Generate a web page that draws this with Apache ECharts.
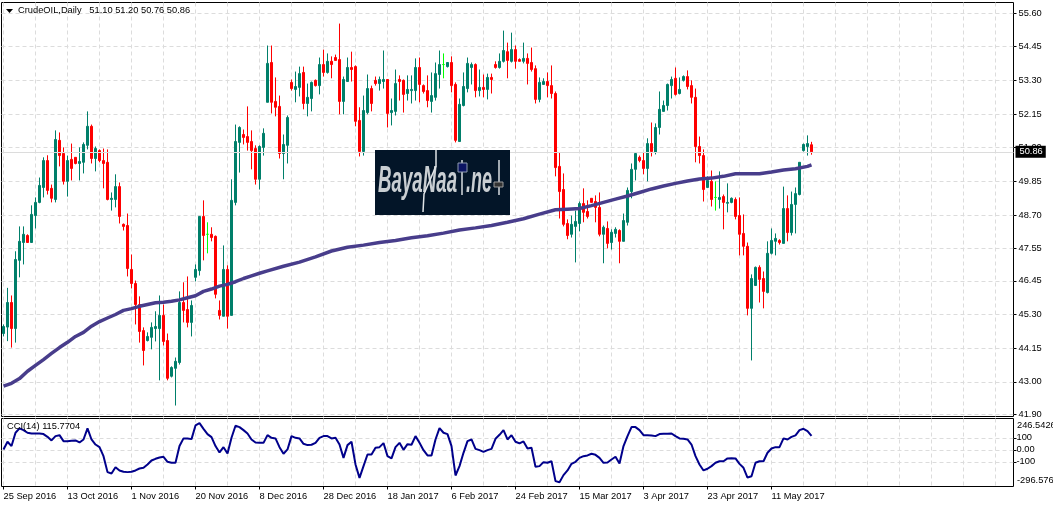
<!DOCTYPE html>
<html>
<head>
<meta charset="utf-8">
<title>CrudeOIL Daily</title>
<script src="https://cdn.jsdelivr.net/npm/echarts@6/dist/echarts.min.js"></script>
<style>
html,body{margin:0;padding:0;background:#fff;overflow:hidden}
#main{width:1053px;height:508px}
</style>
</head>
<body>
<div id="main"></div>
<script>
// daily candles
var opens = [
44.65,44.87,45.71,44.82,47.15,47.76,48.00,47.76,48.68,49.13,
49.64,50.56,49.61,49.23,51.25,50.80,49.85,50.60,50.67,50.46,
50.50,51.08,51.73,50.63,50.90,50.56,50.50,49.23,49.23,49.67,
48.38,48.34,46.84,46.36,45.64,44.75,44.41,44.52,44.82,44.82,
45.27,44.41,43.19,43.46,43.66,45.71,45.47,45.03,46.57,46.80,
48.65,48.04,48.04,47.97,45.44,45.24,46.84,45.27,49.13,51.18,
51.45,51.38,51.21,50.97,49.92,51.01,52.55,53.91,52.58,52.41,
50.80,51.08,53.23,52.99,53.06,53.57,52.51,52.68,53.30,53.12,
53.84,53.57,53.95,54.08,54.01,52.58,53.26,53.74,53.77,51.93,
50.87,52.20,53.02,53.30,53.19,53.26,53.33,52.20,52.24,53.33,
53.30,52.85,52.95,52.95,53.74,53.12,52.95,52.58,52.72,53.50,
53.84,53.77,53.91,53.16,51.21,52.44,53.02,53.74,53.84,52.95,
53.06,52.99,53.40,53.84,53.74,53.95,54.28,53.95,54.35,54.01,
53.95,54.05,53.91,53.70,52.65,53.16,53.26,53.12,52.85,50.36,
49.57,48.41,48.04,48.31,48.41,49.09,48.82,49.27,49.16,48.96,
48.04,48.24,47.76,48.07,48.17,47.80,48.45,49.50,50.26,50.67,
50.56,50.29,51.14,50.84,51.69,52.24,52.44,53.12,53.37,52.85,
53.30,53.43,53.12,52.72,51.04,50.73,49.64,49.85,49.30,49.23,
49.33,49.10,49.13,49.23,48.68,48.07,47.63,45.51,46.29,46.91,
46.53,46.05,47.39,47.80,47.83,47.73,48.92,48.10,49.06,49.40,
50.90,51.04,51.10];
var closes = [
44.89,45.71,44.82,47.18,47.80,48.04,47.76,48.72,49.13,49.71,
50.56,49.54,49.27,51.28,50.73,49.85,50.56,50.29,50.46,50.53,
51.11,51.73,50.63,50.97,50.56,50.46,49.23,49.27,49.67,48.65,
48.31,46.87,46.36,45.64,44.72,44.07,44.55,44.86,44.89,45.27,
44.38,43.12,43.49,43.70,45.71,45.44,45.03,45.61,46.84,48.65,
48.00,48.04,47.93,45.99,45.27,46.84,45.24,49.20,51.21,51.69,
51.35,51.18,50.90,49.92,51.04,51.49,53.88,52.55,52.38,50.80,
51.11,52.03,53.02,53.09,53.53,52.51,52.72,53.23,53.12,53.84,
53.57,53.95,53.84,53.98,52.58,53.33,53.74,53.67,51.90,50.87,
52.27,53.02,52.51,53.19,53.33,53.33,52.17,52.27,53.19,53.26,
52.82,52.99,52.99,53.74,53.16,52.92,52.61,52.78,53.53,53.84,
53.84,53.91,53.12,51.25,52.48,53.09,53.88,53.84,52.95,53.06,
52.99,53.40,53.33,53.74,53.95,54.32,53.98,54.35,53.95,53.95,
54.05,53.88,53.67,52.65,53.23,53.26,53.12,52.85,50.32,49.50,
48.38,48.00,48.38,48.48,49.09,48.79,48.65,49.13,48.96,48.04,
48.28,47.73,48.11,48.21,47.80,48.51,49.54,50.26,50.80,50.56,
50.29,51.14,50.87,51.69,52.31,52.44,53.16,53.33,52.82,52.99,
53.43,53.09,52.72,51.04,50.73,49.57,49.88,49.23,49.30,49.30,
49.13,49.13,49.27,48.65,48.04,47.63,45.51,46.53,46.91,46.50,
46.09,47.39,47.83,47.90,47.76,48.92,48.10,49.06,49.43,50.50,
51.11,51.14,50.86];
var highs = [
44.96,46.21,45.95,47.46,48.31,48.31,48.04,49.03,49.30,49.98,
50.67,50.74,49.74,51.59,51.52,51.01,50.73,51.14,50.67,51.01,
51.18,52.24,51.79,51.04,50.94,50.97,50.94,49.47,50.09,49.81,
48.41,48.75,47.35,46.46,45.92,44.86,44.69,45.03,45.41,45.95,
45.64,44.65,43.53,43.83,46.09,46.40,46.60,45.78,47.01,48.65,
49.20,48.45,48.28,48.00,45.78,47.66,46.98,49.92,51.79,51.73,
51.62,52.41,51.59,51.08,51.08,51.66,54.49,54.49,53.40,52.78,
51.45,52.10,53.33,53.60,53.77,53.77,53.19,53.26,53.33,54.08,
54.35,54.22,54.12,54.18,55.24,53.43,54.08,54.28,53.81,52.38,
52.78,53.50,53.12,53.43,53.43,54.32,53.33,52.68,53.67,53.47,
53.33,53.47,53.47,54.05,54.08,53.16,53.47,53.57,53.91,54.32,
54.22,53.91,54.12,53.23,52.68,53.57,54.08,53.91,53.88,53.67,
53.50,53.53,53.53,53.95,54.22,55.00,54.59,54.93,54.49,54.05,
54.59,54.22,54.42,53.81,53.40,53.37,53.57,53.81,52.92,50.84,
50.12,48.55,48.68,48.85,49.16,49.61,49.20,49.27,49.37,49.47,
48.34,48.48,48.21,48.28,48.21,48.75,49.64,50.46,50.84,50.73,
50.84,51.32,51.86,51.83,52.92,52.61,53.19,53.43,53.74,53.40,
53.47,53.64,53.30,53.02,51.38,50.94,50.02,50.22,49.85,50.19,
49.40,49.78,49.30,49.30,49.30,48.72,47.76,46.67,46.94,46.98,
46.77,47.80,48.24,48.07,47.87,49.67,49.37,49.50,49.64,50.50,
51.14,51.42,51.20];
var lows = [
44.55,44.39,44.17,44.34,46.57,47.01,47.76,47.76,48.24,49.10,
49.30,49.40,49.13,49.13,50.36,49.74,49.33,49.88,50.43,49.88,
50.12,50.94,50.46,50.19,50.50,49.61,49.20,48.85,48.96,48.41,
48.17,46.60,46.19,44.96,44.34,43.56,44.38,44.11,44.38,43.05,
44.24,43.05,43.15,42.19,43.59,45.03,44.86,44.55,46.43,46.63,
47.15,47.39,47.80,45.85,45.13,45.24,44.82,45.27,49.03,50.15,
51.11,50.90,50.26,49.74,49.57,50.73,52.55,52.17,52.07,50.63,
49.92,50.46,52.95,52.55,52.75,52.31,52.07,52.24,53.09,52.82,
53.43,53.53,53.37,53.98,52.14,52.14,53.26,53.26,51.73,50.70,
50.73,52.14,52.24,53.12,52.95,53.02,51.69,51.76,52.10,52.61,
52.20,52.61,52.51,52.61,52.55,52.85,52.38,52.20,52.61,53.02,
53.37,53.74,52.89,51.18,51.21,52.41,52.89,53.16,52.72,52.75,
52.72,52.65,52.85,53.70,53.70,53.91,53.37,53.91,53.70,53.95,
53.88,53.16,53.60,52.51,52.55,53.16,52.72,52.68,50.02,48.58,
48.31,47.87,47.93,47.08,48.14,48.45,48.58,49.13,48.45,47.97,
47.05,47.56,47.52,47.93,47.05,47.80,48.34,49.27,49.88,50.50,
50.09,49.85,50.70,50.77,51.45,52.24,52.27,52.68,52.78,52.82,
53.26,52.99,52.51,50.50,50.46,49.16,49.64,48.99,48.85,48.92,
48.21,48.79,49.10,48.55,47.32,47.32,45.27,43.73,46.29,45.71,
45.51,46.02,47.35,47.32,47.69,47.73,47.80,48.00,48.07,49.37,
50.87,50.73,50.76];

// moving average, read every few bars
var maBars = [0,2,4,6,8,10,12,14,16,18,20,22,24,26,28,30,32,34,36,38,40,42,44,46,48,50,52,54,56,58,60,62,64,66,
70,74,78,82,86,90,94,98,102,106,110,114,118,122,126,130,134,138,141,144,147,150,153,156,159,162,165,168,171,174,177,180,183,186,189,192,195,198,201,202];
var maValues = [42.85,42.95,43.11,43.36,43.56,43.76,43.97,44.17,44.35,44.55,44.69,44.90,45.06,45.18,45.30,45.44,45.50,45.58,45.64,45.70,45.72,45.75,45.80,45.87,45.94,46.09,46.17,46.27,46.33,46.42,46.53,46.62,46.71,46.79,
46.95,47.09,47.27,47.47,47.60,47.67,47.76,47.83,47.92,47.99,48.08,48.19,48.26,48.34,48.45,48.57,48.73,48.88,48.90,48.92,49.02,49.13,49.24,49.35,49.47,49.59,49.69,49.78,49.86,49.93,49.96,50.02,50.11,50.11,50.11,50.17,50.24,50.28,50.36,50.41];

// CCI(14) per bar
var cciValues = [
3,67,31,142,178,164,142,136,136,136,
131,108,78,114,122,72,72,75,78,61,
86,178,86,44,22,-53,-186,-197,-145,-172,
-183,-186,-183,-172,-156,-150,-122,-89,-75,-64,
-58,-100,-108,-108,31,95,95,89,203,222,
175,131,106,31,-22,22,-31,100,200,189,
164,136,86,61,58,58,122,100,95,22,
-33,3,114,100,95,50,39,42,58,100,
114,114,95,100,44,-67,39,67,-122,-234,
-136,-39,-39,17,22,56,-53,-72,22,58,
0,47,42,114,58,-3,-47,-47,86,181,
142,131,31,-214,-136,-25,72,86,8,-3,
-17,-3,8,92,125,164,86,122,67,53,
70,11,17,-142,-136,-103,-108,-95,-261,-270,
-211,-172,-117,-100,-67,-53,-47,-33,-42,-67,
-108,-106,-81,-58,-114,31,114,189,189,164,
122,122,120,114,131,133,133,136,114,95,
92,86,44,-53,-122,-172,-158,-136,-108,-95,
-95,-72,-70,-72,-117,-150,-231,-220,-108,-95,
-95,-25,11,22,22,95,86,108,120,164,
175,156,115.7704];

var dateLabels = ['25 Sep 2016','13 Oct 2016','1 Nov 2016','20 Nov 2016','8 Dec 2016','28 Dec 2016','18 Jan 2017','6 Feb 2017','24 Feb 2017','15 Mar 2017','3 Apr 2017','23 Apr 2017','11 May 2017'];
var priceTicks = [55.60,54.45,53.30,52.15,51.00,49.85,48.70,47.55,46.45,45.30,44.15,43.00,41.90];
var cciTicks = [100,0,-100];
var cciRange = [246.5426,-296.576];

var fontName = '"Liberation Sans"';
var labelSize = 9.3;
var gridColor = '#dcdcdc';
var barSlots = 253;
var lastPrice = closes[closes.length-1];

var xCats = [];
for(var i=0;i<barSlots;i++){
    xCats.push(i%16==0 && dateLabels[i/16] ? dateLabels[i/16] : '');
}
var candleData = [];
for(var i=0;i<opens.length;i++){
    candleData.push([opens[i],closes[i],lows[i],highs[i]]);
}
var maData = [];
for(var i=0;i<maBars.length;i++){
    maData.push([maBars[i],maValues[i]]);
}

var vGrid = {show:true,interval:7,alignWithLabel:true,lineStyle:{color:gridColor,type:[4,3],width:1}};
var hGrid = {show:true,lineStyle:{color:gridColor,type:[4,3],width:1}};

var myChart = echarts.init(document.getElementById('main'));
var option = {
    animation:false,
    backgroundColor:'#fff',
    textStyle:{fontFamily:fontName},
    grid:[
        {left:1.5,width:1012,top:2.5,height:414,show:true,borderColor:'#000',borderWidth:1},
        {left:1.5,width:1012,top:418.5,height:68,show:true,borderColor:'#000',borderWidth:1}
    ],
    xAxis:[
        {type:'category',gridIndex:0,data:xCats,axisLine:{show:false,onZero:false},axisTick:{show:false},axisLabel:{show:false},splitLine:vGrid},
        {type:'category',gridIndex:1,data:xCats,axisLine:{show:false,onZero:false},
            axisTick:{show:true,alignWithLabel:true,length:3,lineStyle:{color:'#000'},
                interval:function(idx,val){return val!=='';}},
            axisLabel:{show:true,interval:15,align:'left',margin:5,fontSize:labelSize,color:'#000',fontFamily:fontName,
                formatter:function(v){return v;}},
            splitLine:vGrid}
    ],
    yAxis:[
        {type:'value',gridIndex:0,position:'right',min:41.815,max:55.96,
            axisLine:{show:false},
            axisTick:{show:true,length:3,customValues:priceTicks,lineStyle:{color:'#000'}},
            axisLabel:{show:true,margin:5,fontSize:labelSize,color:'#000',fontFamily:fontName,customValues:priceTicks,
                formatter:function(v){return v.toFixed(2);}},
            splitLine:hGrid},
        {type:'value',gridIndex:1,position:'right',min:-305.8,max:260.8,
            axisLine:{show:false},
            axisTick:{show:true,length:3,customValues:cciTicks,lineStyle:{color:'#000'}},
            axisLabel:{show:true,margin:3,fontSize:labelSize,color:'#000',fontFamily:fontName,customValues:cciTicks,
                formatter:function(v){return v==0?'0.00':String(v);}},
            splitLine:hGrid}
    ],
    series:[
        {
            name:'CrudeOIL',type:'candlestick',xAxisIndex:0,yAxisIndex:0,data:candleData,barWidth:2,
            itemStyle:{color:'#007f6a',color0:'#ff0000',borderColor:'#007f6a',borderColor0:'#ff0000',borderColorDoji:'#00ff00',borderWidth:1},
            markLine:{
                silent:true,symbol:'none',animation:false,z:20,
                lineStyle:{color:'#dcdcdc',type:'solid',width:1},
                label:{show:true,position:'end',distance:2,formatter:lastPrice.toFixed(2),color:'#fff',backgroundColor:'#000',
                    padding:[2,3,1,4],fontSize:labelSize,fontFamily:fontName},
                data:[{yAxis:lastPrice}]
            }
        },
        {name:'MA',type:'line',xAxisIndex:0,yAxisIndex:0,data:maData,symbol:'none',z:5,lineStyle:{color:'#483d8b',width:3.5}},
        {name:'CCI',type:'line',xAxisIndex:1,yAxisIndex:1,data:cciValues,symbol:'none',lineStyle:{color:'#00008b',width:2}}
    ],
    graphic:[
        {type:'polygon',shape:{points:[[6,9],[13,9],[9.5,13]]},style:{fill:'#000'},z:30},
        {type:'text',x:18,y:5.5,z:30,style:{text:'CrudeOIL,Daily   '+[opens[202],highs[202],lows[202],closes[202]].map(function(v){return v.toFixed(2);}).join(' '),font:labelSize+'px '+fontName,fill:'#000'}},
        {type:'text',x:7,y:422,z:30,style:{text:'CCI(14) '+cciValues[202].toFixed(4),font:labelSize+'px '+fontName,fill:'#000'}},
        {type:'text',x:1017,y:421,z:30,style:{text:String(cciRange[0]),font:labelSize+'px '+fontName,fill:'#000'}},
        {type:'text',x:1017,y:476,z:30,style:{text:String(cciRange[1]),font:labelSize+'px '+fontName,fill:'#000'}},
        // logo
        {type:'rect',shape:{x:375,y:150,width:135,height:65},style:{fill:'#031528'},z:40},
        {type:'text',x:378,y:164,scaleX:0.52,z:41,style:{text:'BayaNaa',font:'italic bold 36px '+fontName,fill:'#c9ced2'}},
        {type:'text',x:466,y:164,scaleX:0.5,z:41,style:{text:'.ne',font:'italic bold 36px '+fontName,fill:'#c9ced2'}},
        {type:'polyline',shape:{points:[[436,150],[436,166],[424,194],[423,212]]},style:{stroke:'#dfe3e6',lineWidth:1.5,fill:null},z:42},
        {type:'line',shape:{x1:462,y1:160,x2:462,y2:195},style:{stroke:'#d8dde0',lineWidth:1.5},z:41},
        {type:'rect',shape:{x:458,y:163,width:9,height:9},style:{fill:'#0b1463',stroke:'#8f9bb0',lineWidth:1},z:42},
        {type:'line',shape:{x1:499,y1:160,x2:499,y2:195},style:{stroke:'#d8dde0',lineWidth:1.5},z:41},
        {type:'rect',shape:{x:494,y:182,width:9,height:5},style:{fill:'#333',stroke:'#9a9a9a',lineWidth:1},z:42}
    ]
};
myChart.setOption(option);
</script>
</body>
</html>
